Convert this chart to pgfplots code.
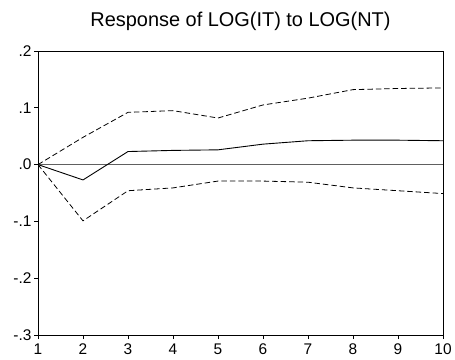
\documentclass[border=0pt]{standalone}
\usepackage{pgfplots}
\pgfplotsset{compat=1.18}
\usepackage{fontspec}
\setmainfont{Liberation Sans}
\begin{document}
\begin{tikzpicture}
\begin{axis}[
  scale only axis,
  width=405bp, height=284bp,
  xmin=1, xmax=10, ymin=-0.3, ymax=0.2,
  xtick={1,...,10},
  ytick={-0.3,-0.2,-0.1,0,0.1,0.2},
  yticklabels={-.3,-.2,-.1,.0,.1,.2},
  tick align=outside,
  tick pos=left,
  major tick length=4bp,
  axis line style={black, line width=0.9pt},
  tick style={black, line width=0.9pt},
  /pgf/number format/assume math mode=true,
  ticklabel style={font=\fontsize{15.5}{17}\selectfont},
  xticklabel style={yshift=-1pt},
  yticklabel style={xshift=1pt},
  title={Response of LOG(IT) to LOG(NT)},
  title style={font=\fontsize{20}{22}\selectfont, yshift=11pt},
]
\addplot[gray!75!black, line width=1.1pt, forget plot] coordinates {(1,0) (10,0)};
\addplot[black, line width=0.9pt] coordinates {
(1,0) (2,-0.027) (3,0.023) (4,0.025) (5,0.026) (6,0.036) (7,0.042) (8,0.043) (9,0.043) (10,0.042)};
\addplot[black, line width=0.8pt, dash pattern=on 5.5pt off 3pt] coordinates {
(1,0) (2,0.048) (3,0.092) (4,0.095) (5,0.082) (6,0.105) (7,0.117) (8,0.132) (9,0.134) (10,0.135)};
\addplot[black, line width=0.8pt, dash pattern=on 5.5pt off 3pt] coordinates {
(1,0) (2,-0.099) (3,-0.046) (4,-0.041) (5,-0.029) (6,-0.029) (7,-0.031) (8,-0.041) (9,-0.046) (10,-0.051)};
\end{axis}
\pgfresetboundingbox
\path (current axis.south west) ++(-38bp,-24bp) coordinate (bl);
\path (current axis.north east) ++(12bp,51bp) coordinate (tr);
\useasboundingbox (bl) rectangle (tr);
\end{tikzpicture}
\end{document}
